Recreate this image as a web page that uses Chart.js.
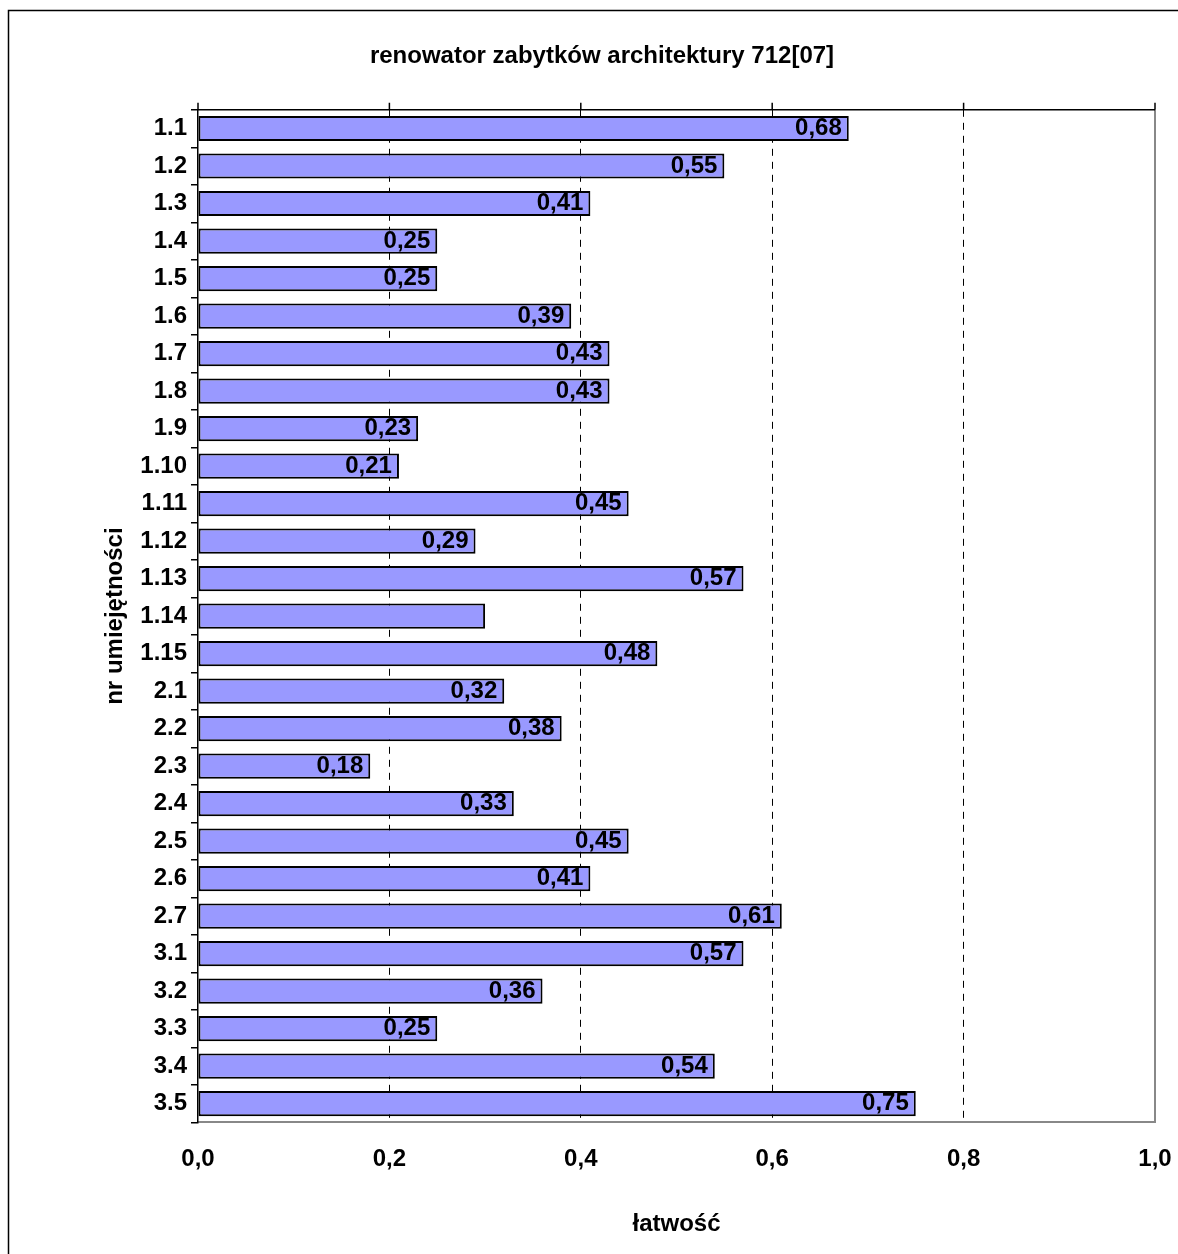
<!DOCTYPE html>
<html>
<head>
<meta charset="utf-8">
<script src="https://cdn.jsdelivr.net/npm/chart.js@4"></script>
<style>
    html, body { margin: 0; padding: 0; background: #fff; }
    #wrap { width: 1178px; height: 1254px; }
</style>
</head>
<body>
<div id="wrap"><canvas id="chart" width="1178" height="1254"></canvas></div>
<script>
// Chart data
const categories = ['1.1', '1.2', '1.3', '1.4', '1.5', '1.6', '1.7', '1.8', '1.9', '1.10',
    '1.11', '1.12', '1.13', '1.14', '1.15', '2.1', '2.2', '2.3', '2.4', '2.5',
    '2.6', '2.7', '3.1', '3.2', '3.3', '3.4', '3.5'];
const values = [0.68, 0.55, 0.41, 0.25, 0.25, 0.39, 0.43, 0.43, 0.23, 0.21,
    0.45, 0.29, 0.57, 0.30, 0.48, 0.32, 0.38, 0.18, 0.33, 0.45,
    0.41, 0.61, 0.57, 0.36, 0.25, 0.54, 0.75];
// categories whose value label is not shown in the original
const unlabeled = ['1.14'];
const xTicks = [0, 0.2, 0.4, 0.6, 0.8, 1.0];

const FONT = "'Liberation Sans', Arial, sans-serif";

const fmt = v => v.toFixed(2).replace('.', ',');

// white background + outer frame
const framePlugin = {
    id: 'frame',
    beforeDraw(chart) {
        const ctx = chart.ctx;
        ctx.save();
        ctx.fillStyle = '#fff';
        ctx.fillRect(0, 0, chart.width, chart.height);
        ctx.strokeStyle = '#000';
        ctx.lineWidth = 1.5;
        ctx.strokeRect(8.5, 10.5, 3000, 3000);
        ctx.restore();
    },
    afterDatasetsDraw(chart) {
        const { ctx, chartArea: a } = chart;
        const x = chart.scales.x;
        ctx.save();
        // grey right border
        ctx.strokeStyle = '#888';
        ctx.lineWidth = 2;
        ctx.beginPath();
        ctx.moveTo(a.right, a.top);
        ctx.lineTo(a.right, a.bottom);
        ctx.stroke();
        // black top axis with small ticks upward
        ctx.strokeStyle = '#000';
        ctx.lineWidth = 1.5;
        ctx.beginPath();
        ctx.moveTo(a.left, a.top);
        ctx.lineTo(a.right, a.top);
        xTicks.forEach(t => {
            const px = x.getPixelForValue(t);
            ctx.moveTo(px, a.top);
            ctx.lineTo(px, a.top - 7);
        });
        ctx.stroke();
        ctx.restore();
    }
};

// value labels at the inner end of each bar
const valueLabels = {
    id: 'valueLabels',
    afterDatasetsDraw(chart) {
        const ctx = chart.ctx;
        const meta = chart.getDatasetMeta(0);
        ctx.save();
        ctx.font = 'bold 24px ' + FONT;
        ctx.fillStyle = '#000';
        ctx.textAlign = 'right';
        ctx.textBaseline = 'middle';
        meta.data.forEach((bar, i) => {
            if (unlabeled.includes(categories[i])) return;
            ctx.fillText(fmt(values[i]), bar.x - 7, bar.y);
        });
        ctx.restore();
    }
};

new Chart(document.getElementById('chart'), {
    type: 'bar',
    data: {
        labels: categories,
        datasets: [{
            data: values,
            backgroundColor: '#9999FF',
            borderColor: '#000',
            borderWidth: 2,
            borderSkipped: false,
            categoryPercentage: 1,
            barPercentage: 0.67
        }]
    },
    options: {
        indexAxis: 'y',
        responsive: false,
        animation: false,
        layout: { autoPadding: false, padding: { left: 49, right: 23, top: 0, bottom: 15 } },
        plugins: {
            legend: { display: false },
            tooltip: { enabled: false },
            title: {
                display: true,
                text: 'renowator zabytków architektury 712[07]',
                color: '#000',
                font: { family: FONT, size: 24, weight: 'bold' },
                padding: { top: 42, bottom: 39 }
            }
        },
        scales: {
            x: {
                min: 0,
                max: 1,
                afterBuildTicks: s => { s.ticks = xTicks.map(v => ({ value: v })); },
                afterFit: s => { s.paddingLeft = 0; s.paddingRight = 0; },
                ticks: {
                    color: '#000',
                    padding: 23,
                    font: { family: FONT, size: 24, weight: 'bold' },
                    callback: v => v.toFixed(1).replace('.', ',')
                },
                grid: {
                    drawTicks: false,
                    color: c => (c.tick && c.tick.value > 0 && c.tick.value < 1) ? '#000' : 'transparent',
                    lineWidth: 1
                },
                border: { display: true, color: '#888', width: 2, dash: [7, 6] },
                title: {
                    display: true,
                    text: 'łatwość',
                    color: '#000',
                    font: { family: FONT, size: 24, weight: 'bold' },
                    padding: { top: 13, bottom: 0 }
                }
            },
            y: {
                afterFit: s => { s.width = 149; },
                ticks: {
                    color: '#000',
                    padding: 4,
                    font: { family: FONT, size: 24, weight: 'bold' }
                },
                grid: {
                    offset: true,
                    drawOnChartArea: false,
                    drawTicks: true,
                    tickLength: 7,
                    color: '#000',
                    lineWidth: 1.5
                },
                border: { display: true, color: '#000', width: 1.5 },
                title: {
                    display: true,
                    text: 'nr umiejętności',
                    color: '#000',
                    font: { family: FONT, size: 24, weight: 'bold' },
                    padding: { top: 52, bottom: 0 }
                }
            }
        }
    },
    plugins: [framePlugin, valueLabels]
});
</script>
</body>
</html>
